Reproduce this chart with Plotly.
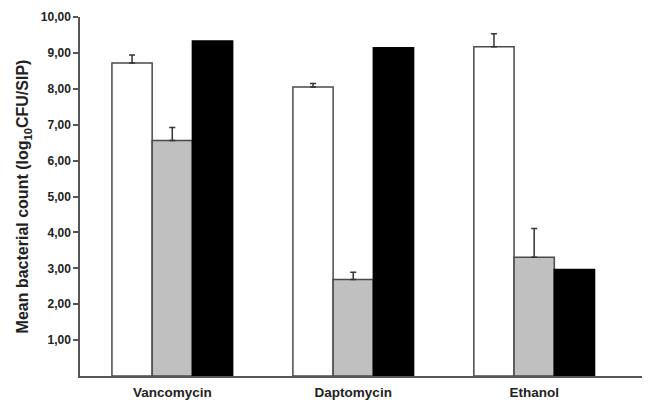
import plotly.graph_objects as go

categories = ["Vancomycin", "Daptomycin", "Ethanol"]
series_white = [8.72, 8.05, 9.17]
err_white = [0.22, 0.10, 0.36]
series_gray = [6.56, 2.69, 3.31]
err_gray = [0.36, 0.20, 0.80]
series_black = [9.33, 9.14, 2.97]
y_ticks = [1, 2, 3, 4, 5, 6, 7, 8, 9, 10]

edge = "#4a4a4a"

def bar(vals, errs, fill, line):
    kw = dict(x=categories, y=vals, marker=dict(color=fill, line=dict(color=line, width=1.5)),
              showlegend=False, hoverinfo="skip")
    if errs is not None:
        kw["error_y"] = dict(type="data", symmetric=False, array=errs,
                             arrayminus=[0] * len(errs), color="#333333",
                             thickness=1.5, width=3)
    return go.Bar(**kw)

fig = go.Figure([
    bar(series_white, err_white, "#ffffff", edge),
    bar(series_gray, err_gray, "#c0c0c0", edge),
    bar(series_black, None, "#000000", "#000000"),
])

# page body has an 8px margin, so the figure is sized 642x392 and offset by 8px
fig.update_layout(
    width=642, height=392,
    margin=dict(l=72, r=0, t=9, b=24),
    paper_bgcolor="white", plot_bgcolor="white",
    barmode="group", bargap=0.333, bargroupgap=0,
    separators=",.",
    font=dict(family="Arial, Liberation Sans, sans-serif", color="#222222"),
    xaxis=dict(range=[-0.51, 2.64], showline=True, linecolor="#555555", linewidth=1.5,
               ticks="", showgrid=False, zeroline=False, ticklabelstandoff=3,
               tickfont=dict(size=13.5, weight="bold", color="#222222")),
    yaxis=dict(range=[0, 10], tickvals=y_ticks, tickformat=".2f",
               showline=True, linecolor="#555555", linewidth=1.5,
               ticks="outside", ticklen=5, tickcolor="#555555", tickwidth=1.5,
               showgrid=False, zeroline=False,
               tickfont=dict(size=12, weight="bold", color="#222222"),
               title=dict(text="Mean bacterial count (log<sub>10</sub>CFU/SIP)",
                          font=dict(size=16, weight="bold", color="#222222"),
                          standoff=8)),
)

fig.write_html("out.html")
